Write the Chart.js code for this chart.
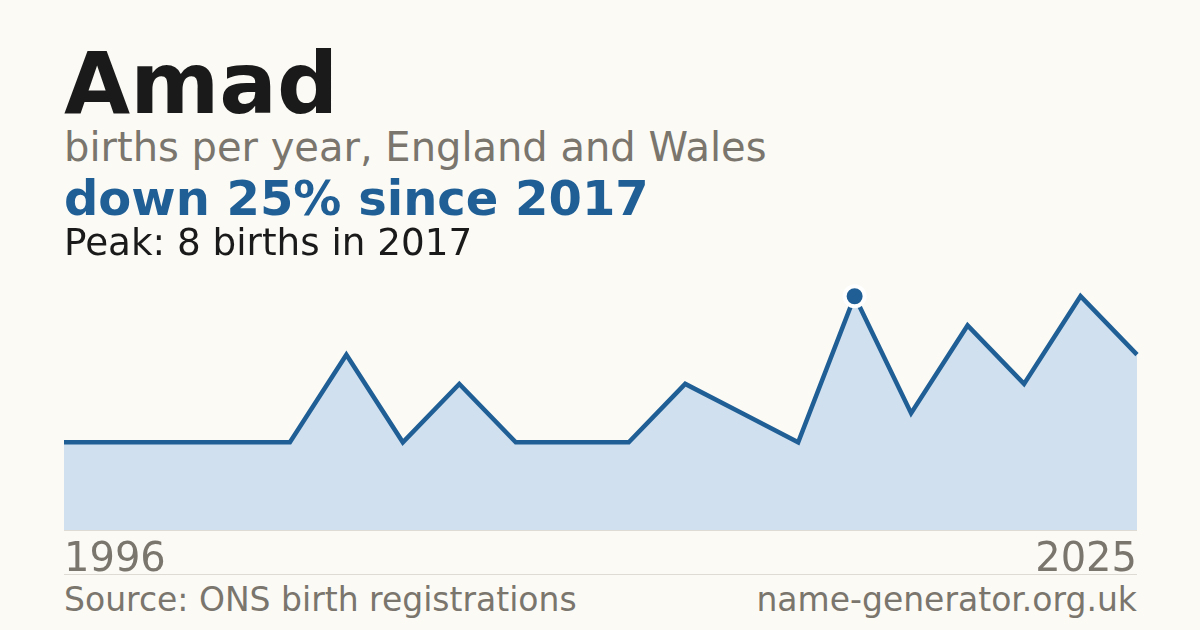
<!DOCTYPE html>
<html>
<head>
<meta charset="utf-8">
<script src="https://cdn.jsdelivr.net/npm/chart.js@4.4.1/dist/chart.umd.min.js"></script>
<style>
  html,body{margin:0;padding:0;background:#fbfaf5;}
  body{width:1200px;height:630px;position:relative;overflow:hidden;font-family:"DejaVu Sans",sans-serif;}
  .t{position:absolute;left:64px;white-space:nowrap;line-height:1;}
  #title{top:41px;font-size:85.5px;font-weight:bold;color:#1a1a1a;}
  #sub{top:127px;font-size:40px;color:#7a756d;}
  #trend{top:174px;font-size:48px;font-weight:bold;color:#1f5f96;}
  #peak{top:224px;font-size:37.3px;color:#1a1a1a;}
  #x0{top:537px;font-size:40px;color:#7a756d;}
  #x1{top:537px;left:auto;right:63px;font-size:40px;color:#7a756d;}
  #sep{position:absolute;left:64px;width:1073px;top:574px;height:1px;background:#dedbd4;}
  #base{position:absolute;left:64px;width:1073px;top:530px;height:1px;background:#dedbd4;}
  #src{top:583px;font-size:33px;color:#7a756d;}
  #site{top:583px;left:auto;right:63px;font-size:33px;color:#7a756d;}
  #wrap{position:absolute;left:54px;top:257px;width:1093px;height:283px;}
</style>
</head>
<body>
<div id="base"></div>
<div id="wrap"><canvas id="c" width="1093" height="283"></canvas></div>
<div class="t" id="title">Amad</div>
<div class="t" id="sub">births per year, England and Wales</div>
<div class="t" id="trend">down 25% since 2017</div>
<div class="t" id="peak">Peak: 8 births in 2017</div>
<div class="t" id="x0"></div>
<div class="t" id="x1"></div>
<div id="sep"></div>
<div class="t" id="src">Source: ONS birth registrations</div>
<div class="t" id="site">name-generator.org.uk</div>
<script>
const years = ["1996","1997","1998","2000","2002","2004","2005","2007","2008","2010","2011","2013","2014","2016","2017","2018","2019","2021","2023","2025"];
const births = [3,3,3,3,3,6,3,5,3,3,3,5,4,3,8,4,7,5,8,6];

const lineColor = "#1f5f96";
const peakIdx = births.indexOf(Math.max(...births));
document.getElementById("x0").textContent = years[0];
document.getElementById("x1").textContent = years[years.length-1];

new Chart(document.getElementById("c"), {
  type: "line",
  data: {
    labels: years,
    datasets: [{
      data: births,
      borderColor: lineColor,
      borderWidth: 4.5,
      backgroundColor: "#d0e0ef",
      fill: "origin",
      tension: 0,
      borderJoinStyle: "miter",
      borderCapStyle: "butt",
      clip: false,
      pointRadius: births.map((v,i)=> i===peakIdx ? 10 : 0),
      pointBackgroundColor: lineColor,
      pointBorderColor: "#ffffff",
      pointBorderWidth: 4,
      pointHoverRadius: 0
    }]
  },
  options: {
    responsive: false,
    animation: false,
    devicePixelRatio: 1,
    layout: { padding: 10 },
    plugins: { legend: {display:false}, tooltip: {enabled:false} },
    scales: {
      x: { display: false, offset: false },
      y: { display: false, min: 0, max: 9 }
    }
  }
});
</script>
</body>
</html>
